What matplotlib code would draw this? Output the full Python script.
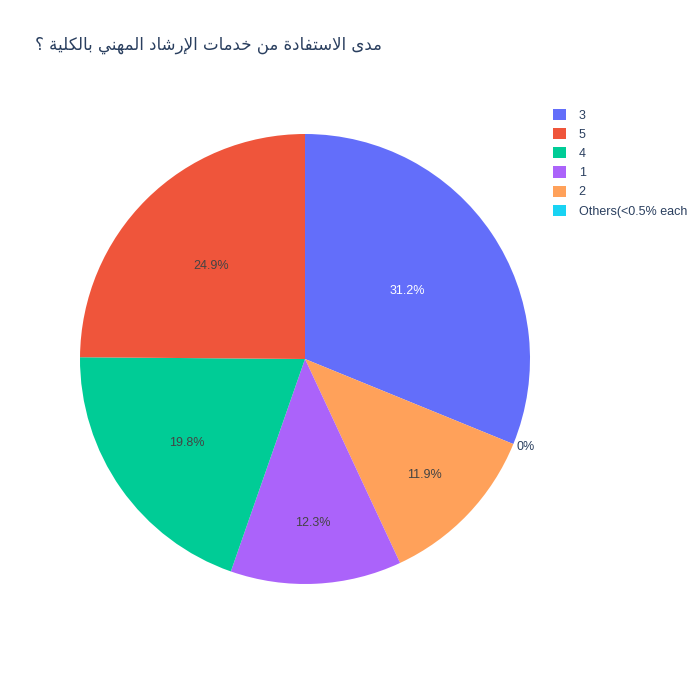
import matplotlib
matplotlib.use("Agg")
import matplotlib.pyplot as plt
import numpy as np

# ---- data ----
title_text = "مدى الاستفادة من خدمات الإرشاد المهني بالكلية ؟"
legend_labels = ["3", "5", "4", "1", "2", "Others(<0.5% each"]
legend_values = [31.2, 24.9, 19.8, 12.3, 11.9, 0.0]
colors = {"3": "#636EFA", "5": "#EF553B", "4": "#00CC96", "1": "#AB63FA",
          "2": "#FFA15A", "Others(<0.5% each": "#19D3F3"}
# drawing order clockwise from 12 o'clock
draw_order = ["3", "Others(<0.5% each", "2", "1", "4", "5"]
label_radius = {"3": 0.55, "5": 0.59, "4": 0.64, "1": 0.725, "2": 0.735, "Others(<0.5% each": 1.015}

# ---- minimal Arabic shaping (matplotlib has no complex text layout) ----
FORMS = {
    '\u0627': ('\uFE8D', '\uFE8E', None, None),
    '\u0625': ('\uFE87', '\uFE88', None, None),
    '\u0628': ('\uFE8F', '\uFE90', '\uFE91', '\uFE92'),
    '\u0629': ('\uFE93', '\uFE94', None, None),
    '\u062A': ('\uFE95', '\uFE96', '\uFE97', '\uFE98'),
    '\u062E': ('\uFEA5', '\uFEA6', '\uFEA7', '\uFEA8'),
    '\u062F': ('\uFEA9', '\uFEAA', None, None),
    '\u0631': ('\uFEAD', '\uFEAE', None, None),
    '\u0633': ('\uFEB1', '\uFEB2', '\uFEB3', '\uFEB4'),
    '\u0634': ('\uFEB5', '\uFEB6', '\uFEB7', '\uFEB8'),
    '\u0641': ('\uFED1', '\uFED2', '\uFED3', '\uFED4'),
    '\u0643': ('\uFED9', '\uFEDA', '\uFEDB', '\uFEDC'),
    '\u0644': ('\uFEDD', '\uFEDE', '\uFEDF', '\uFEE0'),
    '\u0645': ('\uFEE1', '\uFEE2', '\uFEE3', '\uFEE4'),
    '\u0646': ('\uFEE5', '\uFEE6', '\uFEE7', '\uFEE8'),
    '\u0647': ('\uFEE9', '\uFEEA', '\uFEEB', '\uFEEC'),
    '\u0649': ('\uFEEF', '\uFEF0', None, None),
    '\u064A': ('\uFEF1', '\uFEF2', '\uFEF3', '\uFEF4'),
}
LAM_ALEF = {'\u0627': ('\uFEFB', '\uFEFC'), '\u0625': ('\uFEF9', '\uFEFA')}


def shape_arabic(s):
    tokens = []
    i = 0
    while i < len(s):
        c = s[i]
        if c == '\u0644' and i + 1 < len(s) and s[i + 1] in LAM_ALEF:
            tokens.append(('LA', s[i + 1]))
            i += 2
        else:
            tokens.append(('C', c))
            i += 1

    def dual(t):
        return t[0] == 'C' and t[1] in FORMS and FORMS[t[1]][2] is not None

    def joining(t):
        return t[0] == 'LA' or t[1] in FORMS

    out = []
    for k, t in enumerate(tokens):
        prev = tokens[k - 1] if k > 0 else None
        nxt = tokens[k + 1] if k + 1 < len(tokens) else None
        jp = prev is not None and dual(prev) and joining(t)
        if t[0] == 'LA':
            out.append(LAM_ALEF[t[1]][1 if jp else 0])
            continue
        c = t[1]
        if c not in FORMS:
            out.append(c)
            continue
        f = FORMS[c]
        jn = f[2] is not None and nxt is not None and joining(nxt)
        if jp and jn:
            out.append(f[3])
        elif jp:
            out.append(f[1])
        elif jn:
            out.append(f[2])
        else:
            out.append(f[0])
    return ''.join(reversed(out))


# ---- figure ----
W = H = 700
fig = plt.figure(figsize=(7, 7), dpi=100)
cx, cy, R = 305, 359, 225
ax = fig.add_axes([(cx - R) / W, (H - cy - R) / H, 2 * R / W, 2 * R / H])

vals = [legend_values[legend_labels.index(k)] for k in draw_order]
cols = [colors[k] for k in draw_order]
wedges, _ = ax.pie(vals, colors=cols, startangle=90, counterclock=False,
                   radius=1.0, wedgeprops=dict(linewidth=0))
ax.set_xlim(-1, 1)
ax.set_ylim(-1, 1)
ax.set_aspect("equal")
ax.axis("off")

total = sum(vals)
for w, k, v in zip(wedges, draw_order, vals):
    p = 100 * v / total
    txt = f"{p:.1f}%" if p > 0 else "0%"
    ang = np.deg2rad((w.theta1 + w.theta2) / 2)
    r = label_radius[k]
    color = "white" if k == "3" else "#444444"
    ha = "center"
    if v == 0:
        ha = "left"
        color = "#2a3f5f"
    ax.text(r * np.cos(ang), r * np.sin(ang), txt, ha=ha, va="center_baseline",
            fontsize=9, color=color, family="Liberation Sans")

# legend
handles = [wedges[draw_order.index(k)] for k in legend_labels]
leg = fig.legend(handles, legend_labels, loc="upper left",
                 bbox_to_anchor=(553 / W, 1 - 109 / H), frameon=False,
                 prop={"family": "Liberation Sans", "size": 9},
                 handlelength=1.0, handleheight=1.0, handletextpad=1.05,
                 labelspacing=0.5, borderpad=0, borderaxespad=0)
for t in leg.get_texts():
    t.set_color("#2a3f5f")

fig.text(35 / W, 1 - 45 / H, shape_arabic(title_text), ha="left", va="center",
         fontsize=12.0, color="#2a3f5f", family="DejaVu Sans")

fig.savefig("out.png", dpi=100)
